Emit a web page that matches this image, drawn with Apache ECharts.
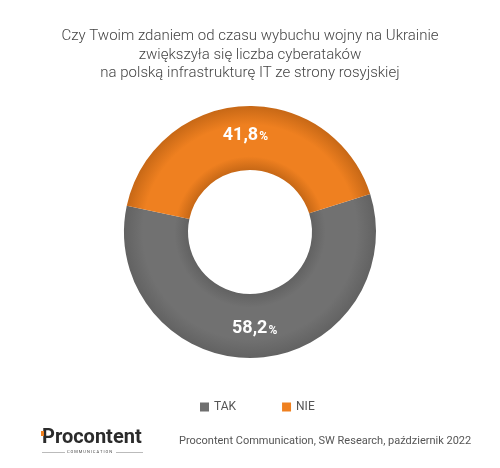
<!DOCTYPE html>
<html>
<head>
<meta charset="utf-8">
<script src="https://cdn.jsdelivr.net/npm/echarts@6/dist/echarts.min.js"></script>
<style>
html,body{margin:0;padding:0;background:#fff;}
#chart{width:500px;height:468px;}
</style>
</head>
<body>
<div id="chart"></div>
<script>
var titleLines = ['Czy Twoim zdaniem od czasu wybuchu wojny na Ukrainie', 'zwiększyła się liczba cyberataków', 'na polską infrastrukturę IT ze strony rosyjskiej'];
var categories = ['TAK', 'NIE'];
var values = [58.2, 41.8];
var sourceText = 'Procontent Communication, SW Research, październik 2022';

var cx = 250, cy = 232, rOut = 126, rIn = 62;
function radial(dark, base) {
  return {
    type: 'radial', x: cx, y: cy, r: rOut, global: true,
    colorStops: [
      {offset: 0, color: dark},
      {offset: rIn / rOut, color: dark},
      {offset: 0.6, color: base},
      {offset: 0.85, color: base},
      {offset: 1, color: dark}
    ]
  };
}
var colors = [radial('#626262', '#717171'), radial('#c76816', '#ef8020')];
var legendColors = ['#6f6f6f', '#ef8020'];

var chart = echarts.init(document.getElementById('chart'), null, {renderer: 'canvas'});
chart.setOption({
  backgroundColor: '#ffffff',
  animation: false,
  title: {
    text: titleLines.join('\n'),
    left: 'center', top: 22,
    textStyle: {fontFamily: 'Roboto', fontWeight: 300, fontSize: 15, color: '#444', lineHeight: 18.5}
  },
  legend: {
    data: categories.map(function (c, i) { return {name: c, itemStyle: {color: legendColors[i]}}; }),
    left: 195, top: 396,
    icon: 'rect', itemWidth: 9, itemHeight: 9, itemGap: 46,
    textStyle: {fontFamily: 'Roboto', fontSize: 12, color: '#555'}
  },
  series: [{
    type: 'pie',
    center: [cx, cy],
    radius: [rIn, rOut],
    startAngle: 17.5,
    clockwise: true,
    avoidLabelOverlap: false,
    label: {
      show: true, position: 'inside',
      formatter: function (p) { return '{v|' + String(p.value).replace('.', ',') + '}{p|%}'; },
      rich: {
        v: {fontFamily: 'Roboto', fontWeight: 'bold', fontSize: 18, color: '#fff'},
        p: {fontFamily: 'Roboto', fontWeight: 'bold', fontSize: 12, color: '#fff', padding: [4, 0, 0, 1]}
      }
    },
    labelLine: {show: false},
    emphasis: {disabled: true},
    data: categories.map(function (c, i) { return {name: c, value: values[i], itemStyle: {color: colors[i]}}; })
  }],
  graphic: [
    {type: 'text', left: 42, top: 428, style: {text: 'Procontent', fontFamily: 'Roboto', fontWeight: 'bold', fontSize: 20, fill: '#2b2b2b'}},
    {type: 'rect', shape: {x: 41, y: 431, width: 3, height: 5}, style: {fill: '#ef8020'}},
    {type: 'line', shape: {x1: 42, y1: 452.5, x2: 65, y2: 452.5}, style: {stroke: '#bbb', lineWidth: 1}},
    {type: 'line', shape: {x1: 116, y1: 452.5, x2: 143, y2: 452.5}, style: {stroke: '#bbb', lineWidth: 1}},
    {type: 'text', left: 67, top: 450, style: {text: 'C O M M U N I C A T I O N', fontFamily: 'Roboto', fontSize: 4, fill: '#444'}},
    {type: 'text', left: 179, top: 436, style: {text: sourceText, fontFamily: 'Roboto', fontSize: 11, fill: '#555'}}
  ]
});
</script>
</body>
</html>
